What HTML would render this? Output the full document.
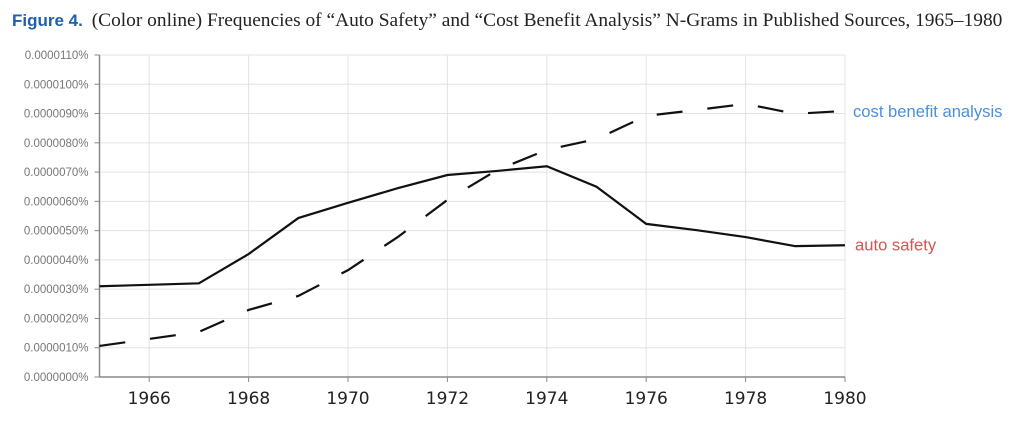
<!DOCTYPE html>
<html><head><meta charset="utf-8"><style>
body{margin:0;background:#fff;width:1024px;height:437px;overflow:hidden}
#title{position:absolute;left:12px;top:10px;font-family:"Liberation Serif",serif;font-size:19.4px;color:#222;white-space:nowrap}
#title b{font-family:"Liberation Sans",sans-serif;color:#1f5fae;font-size:17px;margin-right:4px}
</style></head><body>
<div id="title"><b>Figure 4.</b> (Color online) Frequencies of “Auto Safety” and “Cost Benefit Analysis” N-Grams in Published Sources, 1965–1980</div>
<svg id="chart" width="1024" height="437" style="position:absolute;left:0;top:0"></svg>
<script>
const years=[1965,1966,1967,1968,1969,1970,1971,1972,1973,1974,1975,1976,1977,1978,1979,1980];
const autoSafety=[3.1,3.15,3.2,4.2,5.43,5.95,6.45,6.9,7.04,7.2,6.5,5.23,5.02,4.78,4.47,4.5];
const costBenefit=[1.06,1.3,1.54,2.29,2.77,3.65,4.78,6.05,7.07,7.76,8.13,8.92,9.12,9.33,8.99,9.09];
const yTicks=[0,1,2,3,4,5,6,7,8,9,10,11];
const xTicks=[1966,1968,1970,1972,1974,1976,1978,1980];
const NS="http://www.w3.org/2000/svg";
const svg=document.getElementById('chart');
const X0=99.5,X1=845,Y0=377,Y1=55;
const xs=v=>X0+(v-1965)/(1980-1965)*(X1-X0);
const ys=v=>Y0-(v/11)*(Y0-Y1);
function mk(t,a){const e=document.createElementNS(NS,t);for(const k in a)e.setAttribute(k,a[k]);svg.appendChild(e);return e;}
yTicks.forEach(v=>{
 const g=mk('line',{x1:X0,x2:X1,y1:ys(v),y2:ys(v),stroke:'#e3e3e3','stroke-width':1});
 
 
 const tk=mk('line',{x1:X0-5,x2:X0,y1:ys(v),y2:ys(v),stroke:'#888','stroke-width':1});
 
 
 const t=mk('text',{x:X0-11,y:ys(v)+4,'text-anchor':'end','font-family':'Liberation Sans, sans-serif','font-size':11.5,fill:'#777'});
 t.textContent='0.0000'+String(v*10).padStart(3,'0')+'%';
 
 
});
xTicks.forEach(v=>{
 const g=mk('line',{x1:xs(v),x2:xs(v),y1:Y1,y2:Y0,stroke:'#e3e3e3','stroke-width':1});
 
 
 const tk=mk('line',{x1:xs(v),x2:xs(v),y1:Y0,y2:Y0+5,stroke:'#888','stroke-width':1});
 
 
 const t=mk('text',{x:xs(v),y:Y0+27,'text-anchor':'middle','font-family':'DejaVu Sans, sans-serif','font-size':17,fill:'#222'});
 t.textContent=v;
 
 
});
const ya=mk('line',{x1:X0,x2:X0,y1:Y1,y2:Y0,stroke:'#888','stroke-width':1.5});


const xa=mk('line',{x1:X0,x2:X1,y1:Y0,y2:Y0,stroke:'#888','stroke-width':1.5});


const pts=arr=>arr.map((v,i)=>xs(years[i])+','+ys(v)).join(' ');
const l1=mk('polyline',{points:pts(costBenefit),fill:'none',stroke:'#111','stroke-width':2.2,'stroke-dasharray':'26 25'});


const l2=mk('polyline',{points:pts(autoSafety),fill:'none',stroke:'#111','stroke-width':2.2});


const t1=mk('text',{x:853,y:ys(costBenefit[15])+6,'font-family':'Liberation Sans, sans-serif','font-size':16.6,fill:'#4a90d9'});
t1.textContent='cost benefit analysis';


const t2=mk('text',{x:855,y:ys(autoSafety[15])+5,'font-family':'Liberation Sans, sans-serif','font-size':16.6,fill:'#d9534f'});
t2.textContent='auto safety';


</script>
</body></html>
